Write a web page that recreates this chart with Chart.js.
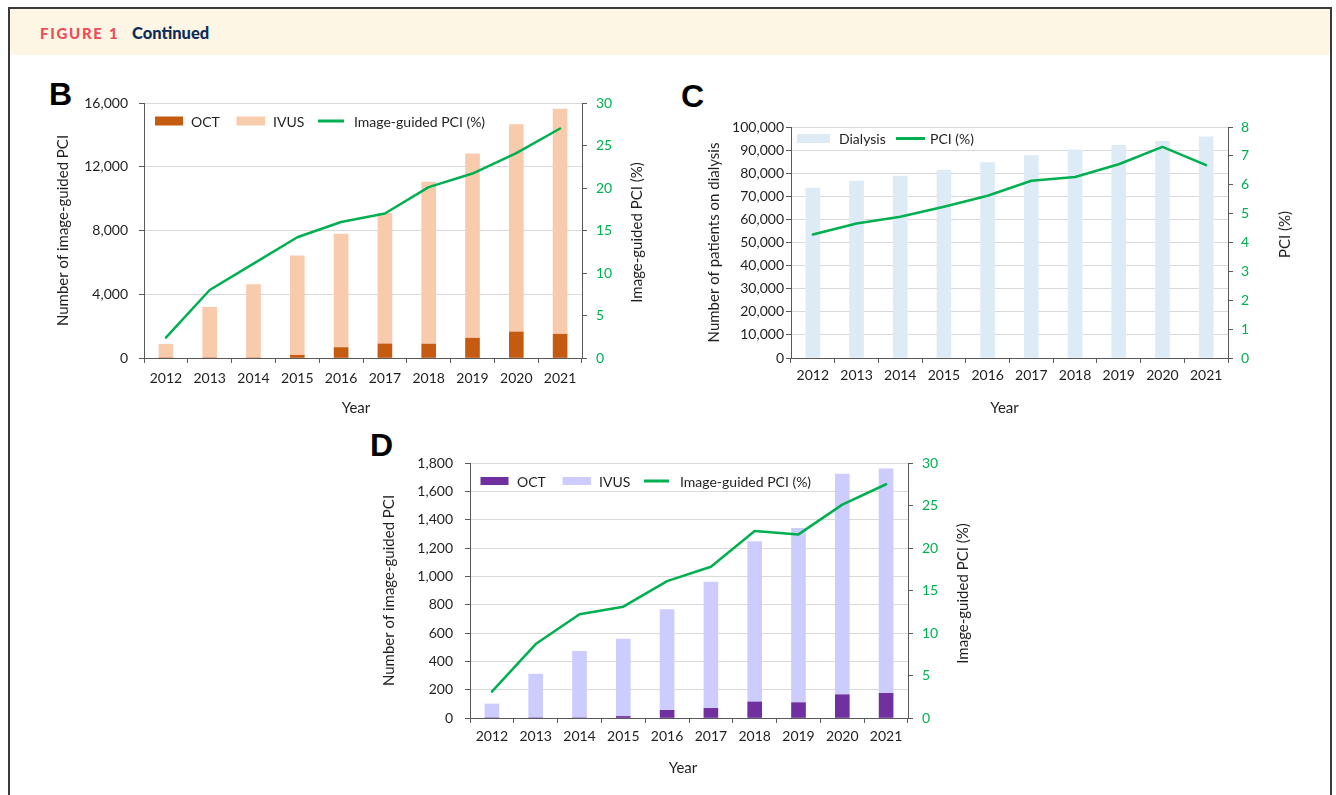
<!DOCTYPE html>
<html>
<head>
<meta charset="utf-8">
<script src="https://cdn.jsdelivr.net/npm/chart.js@4.4.1/dist/chart.umd.min.js"></script>
<style>
  html, body { margin: 0; padding: 0; background: #fff; width: 1336px; height: 795px; overflow: hidden; }
  .frame { position: absolute; left: 8px; top: 7px; width: 1320px; height: 800px;
           border: 2px solid #3a3a3a; border-bottom: none; }
  .band { position: absolute; left: 10px; top: 9px; width: 1320px; height: 46px; background: #FDF6E4; }
  .fig { position: absolute; left: 40px; top: 23px; font: 900 15px Lato, sans-serif; letter-spacing: 1.7px;
         color: #EF4B5B; line-height: 20px; }
  .cont { position: absolute; left: 132px; top: 22px; font: 900 16.5px Lato, sans-serif; color: #0D2B58; line-height: 22px; }
  .panel { position: absolute; font: 700 32px "Liberation Sans", Arial, sans-serif; color: #000; line-height: 32px; }
  canvas { position: absolute; }
</style>
</head>
<body>
<div class="frame"></div>
<div class="band"></div>
<div class="fig">FIGURE 1</div>
<div class="cont">Continued</div>
<div class="panel" style="left:49px;top:78px">B</div>
<div class="panel" style="left:681px;top:80px">C</div>
<div class="panel" style="left:370px;top:429px">D</div>

<canvas id="chartB" width="620" height="335" style="left:40px;top:90px"></canvas>
<canvas id="chartC" width="630" height="315" style="left:680px;top:110px"></canvas>
<canvas id="chartD" width="630" height="335" style="left:370px;top:450px"></canvas>

<script>
// ---- data ----
const years = ['2012', '2013', '2014', '2015', '2016', '2017', '2018', '2019', '2020', '2021'];

// B: image-guided PCI, all patients
const bOct  = [0, 0, 0, 170, 650, 880, 870, 1240, 1630, 1490];
const bIvus = [860, 3180, 4610, 6240, 7120, 8190, 10170, 11570, 13010, 14130];
const bPct  = [2.4, 8.0, 11.1, 14.2, 16.0, 17.0, 20.1, 21.7, 24.1, 27.0];
const bCountTicks = [0, 4000, 8000, 12000, 16000];
const bPctTicks   = [0, 5, 10, 15, 20, 25, 30];

// C: patients on dialysis and share of PCI
const cDialysis = [73600, 76600, 78800, 81300, 84600, 87600, 90100, 92100, 93800, 95700];
const cPct      = [4.28, 4.66, 4.89, 5.24, 5.62, 6.14, 6.27, 6.71, 7.31, 6.68];
const cCountTicks = [0, 10000, 20000, 30000, 40000, 50000, 60000, 70000, 80000, 90000, 100000];
const cPctTicks   = [0, 1, 2, 3, 4, 5, 6, 7, 8];

// D: image-guided PCI in dialysis patients
const dOct  = [0, 0, 0, 11, 54, 68, 113, 108, 164, 174];
const dIvus = [99, 310, 470, 546, 712, 892, 1133, 1230, 1558, 1585];
const dPct  = [3.1, 8.7, 12.2, 13.1, 16.1, 17.8, 22.0, 21.6, 25.1, 27.5];
const dCountTicks = [0, 200, 400, 600, 800, 1000, 1200, 1400, 1600, 1800];
const dPctTicks   = [0, 5, 10, 15, 20, 25, 30];

// ---- styling ----
const FONT = 'Lato, "Open Sans", sans-serif';
const TEXT = '#1f1f1f';
const AXIS = '#595959';
const GRID = '#d9d9d9';
const GREEN = '#00B050';

// legend drawn inside the plot area, Excel style
const insideLegend = {
  id: 'insideLegend',
  afterDatasetsDraw(chart, args, opts) {
    if (!opts.slots) return;
    const { ctx, chartArea: a } = chart;
    const cy = a.top + opts.dy;
    ctx.save();
    ctx.font = `14px ${FONT}`;
    ctx.textBaseline = 'middle';
    ctx.textAlign = 'left';
    chart.data.datasets.forEach((ds, i) => {
      const s = opts.slots[i];
      const x0 = a.left + s.box;
      if (ds.type === 'line') {
        ctx.strokeStyle = ds.borderColor;
        ctx.lineWidth = 3;
        ctx.beginPath();
        ctx.moveTo(x0, cy);
        ctx.lineTo(x0 + s.w, cy);
        ctx.stroke();
      } else {
        ctx.fillStyle = ds.backgroundColor;
        ctx.fillRect(x0, cy - opts.h / 2, s.w, opts.h);
      }
      ctx.fillStyle = TEXT;
      ctx.fillText(ds.label, a.left + s.text, cy + 1);
    });
    ctx.restore();
  }
};

// right-hand axis title (reading upwards) and the "Year" caption
const captions = {
  id: 'captions',
  afterDraw(chart, args, opts) {
    const { ctx, chartArea: a } = chart;
    ctx.save();
    ctx.font = `15px ${FONT}`;
    ctx.fillStyle = TEXT;
    ctx.textAlign = 'center';
    ctx.textBaseline = 'middle';
    if (opts.right) {
      ctx.save();
      ctx.translate(a.right + opts.right.dx, (a.top + a.bottom) / 2 + opts.right.dy);
      ctx.rotate(-Math.PI / 2);
      ctx.fillText(opts.right.text, 0, 0);
      ctx.restore();
    }
    if (opts.bottom) {
      ctx.fillText(opts.bottom.text, (a.left + a.right) / 2 + opts.bottom.dx, a.bottom + opts.bottom.dy);
    }
    ctx.restore();
  }
};

Chart.register(insideLegend, captions);

function tickRange(t) {
  return { min: t[0], max: t[t.length - 1], stepSize: t[1] - t[0] };
}

// fixed axis thickness; the top of the plot is set by the layout padding alone
function fixWidth(w) {
  return s => { s.width = w; s.paddingTop = 0; s.paddingBottom = 0; };
}

function panel(id, p) {
  const datasets = p.bars.map(b => ({
    type: 'bar', label: b.label, data: b.data, backgroundColor: b.color,
    yAxisID: 'y', order: 2, barThickness: p.barW, stack: 'count', borderWidth: 0
  }));
  datasets.push({
    type: 'line', label: p.lineLabel, data: p.lineData, yAxisID: 'y1', order: 1,
    borderColor: GREEN, backgroundColor: GREEN, borderWidth: 2.5,
    pointRadius: 0, tension: 0, borderJoinStyle: 'round', borderCapStyle: 'round'
  });
  const left = tickRange(p.countTicks);
  const right = tickRange(p.pctTicks);
  const tickFont = { family: FONT, size: 14 };
  return new Chart(document.getElementById(id), {
    data: { labels: years, datasets },
    options: {
      responsive: false, animation: false, devicePixelRatio: 1, locale: 'en-US', events: [],
      layout: { padding: { top: p.padTop, left: 0, right: 0, bottom: 0 } },
      plugins: {
        legend: { display: false },
        tooltip: { enabled: false },
        insideLegend: p.legend,
        captions: { right: p.rightTitle, bottom: p.xTitle }
      },
      scales: {
        x: {
          type: 'category', stacked: true, offset: true,
          grid: { offset: true, drawOnChartArea: false, drawTicks: true, tickLength: 5, tickColor: AXIS },
          border: { display: true, color: AXIS, width: 1 },
          ticks: { color: TEXT, font: tickFont, padding: p.xPad, autoSkip: false, maxRotation: 0 },
          afterFit: s => { s.height = p.xH; }
        },
        y: {
          position: 'left', stacked: true, min: left.min, max: left.max,
          ticks: { stepSize: left.stepSize, color: TEXT, font: tickFont, padding: p.leftPad },
          grid: { color: GRID, lineWidth: 1, drawTicks: true, tickLength: 5, tickColor: AXIS },
          border: { display: true, color: AXIS, width: 1 },
          title: { display: true, text: p.leftTitle, color: TEXT, font: { family: FONT, size: 15 },
                   padding: { top: p.leftTitlePad, bottom: 0 } },
          afterFit: fixWidth(p.leftW)
        },
        y1: {
          position: 'right', min: right.min, max: right.max,
          ticks: { stepSize: right.stepSize, color: GREEN, font: tickFont, padding: p.rightPad },
          grid: { drawOnChartArea: false, drawTicks: true, tickLength: 5, tickColor: AXIS },
          border: { display: true, color: AXIS, width: 1 },
          afterFit: fixWidth(p.rightW)
        }
      }
    }
  });
}

panel('chartB', {
  bars: [
    { label: 'OCT', data: bOct, color: '#C55A11' },
    { label: 'IVUS', data: bIvus, color: '#F8CBAD' }
  ],
  lineLabel: 'Image-guided PCI (%)', lineData: bPct,
  countTicks: bCountTicks, pctTicks: bPctTicks,
  barW: 14, padTop: 13, leftW: 104, rightW: 78, xH: 67,
  leftPad: 11, rightPad: 9, xPad: 7, leftTitlePad: 14,
  leftTitle: 'Number of image-guided PCI',
  rightTitle: { text: 'Image-guided PCI (%)', dx: 55, dy: 2 },
  xTitle: { text: 'Year', dx: -7, dy: 50 },
  legend: { dy: 18, h: 9, slots: [ { box: 11, w: 28, text: 47 }, { box: 92.5, w: 28.5, text: 129 }, { box: 174, w: 26, text: 210 } ] }
});

panel('chartC', {
  bars: [
    { label: 'Dialysis', data: cDialysis, color: '#DDEBF7' }
  ],
  lineLabel: 'PCI (%)', lineData: cPct,
  countTicks: cCountTicks, pctTicks: cPctTicks,
  barW: 14, padTop: 17, leftW: 111, rightW: 82, xH: 67,
  leftPad: 2, rightPad: 8, xPad: 4, leftTitlePad: 25,
  leftTitle: 'Number of patients on dialysis',
  rightTitle: { text: 'PCI (%)', dx: 57, dy: -8 },
  xTitle: { text: 'Year', dx: -5, dy: 50 },
  legend: { dy: 11.5, h: 9, slots: [ { box: 6, w: 33, text: 48 }, { box: 105, w: 29, text: 139 } ] }
});

panel('chartD', {
  bars: [
    { label: 'OCT', data: dOct, color: '#7030A0' },
    { label: 'IVUS', data: dIvus, color: '#CCCCFF' }
  ],
  lineLabel: 'Image-guided PCI (%)', lineData: dPct,
  countTicks: dCountTicks, pctTicks: dPctTicks,
  barW: 14, padTop: 13, leftW: 100, rightW: 92, xH: 67,
  leftPad: 12, rightPad: 9, xPad: 5, leftTitlePad: 10,
  leftTitle: 'Number of image-guided PCI',
  rightTitle: { text: 'Image-guided PCI (%)', dx: 55, dy: 3 },
  xTitle: { text: 'Year', dx: -6, dy: 50 },
  legend: { dy: 18, h: 8, slots: [ { box: 10.5, w: 28, text: 47 }, { box: 92.5, w: 28.5, text: 129 }, { box: 174, w: 25, text: 210 } ] }
});
</script>
</body>
</html>
